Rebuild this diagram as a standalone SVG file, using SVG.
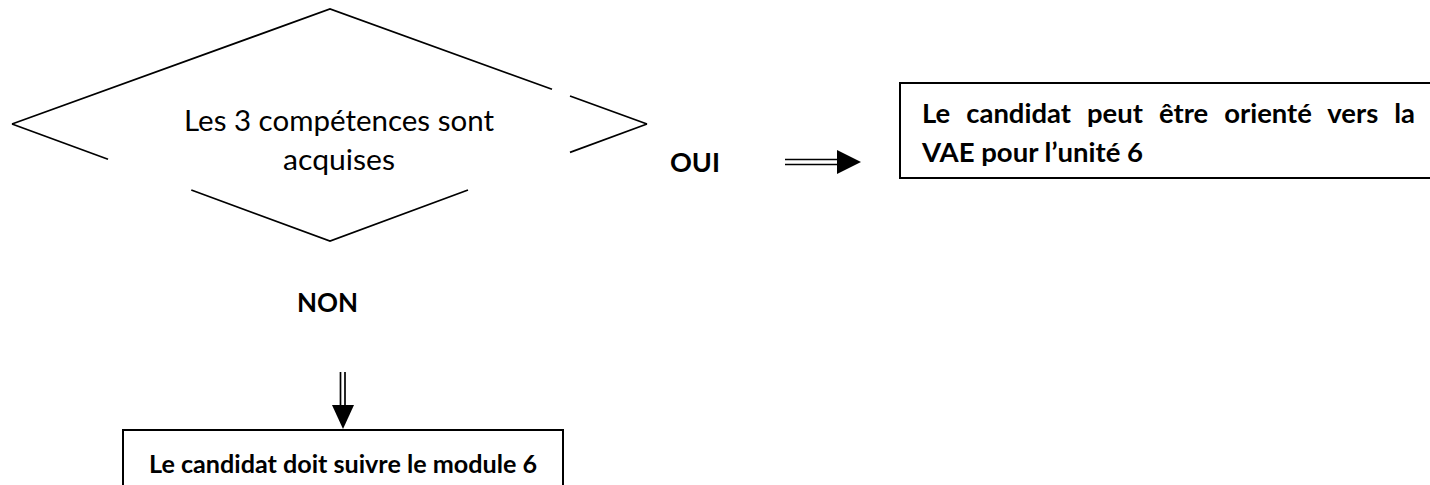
<svg xmlns="http://www.w3.org/2000/svg" width="1430" height="485" viewBox="0 0 1430 485">
  <style>
    .ln { stroke: #000; stroke-width: 1.7; fill: none; }
    .box { stroke: #000; stroke-width: 2; fill: #fff; }
    .reg { font-family: Lato, "Liberation Sans", sans-serif; font-size: 29px; fill: #000; }
    .bold { font-family: Lato, "Liberation Sans", sans-serif; font-weight: bold; fill: #000; }
  </style>
  <rect width="1430" height="485" fill="#fff"/>

  <g id="decision">
    <polyline class="ln" points="12,124 330,9 552,89.3"/>
    <line class="ln" x1="570" y1="96" x2="647" y2="124"/>
    <line class="ln" x1="12" y1="124" x2="108" y2="159.3"/>
    <line class="ln" x1="647" y1="124" x2="570" y2="152.4"/>
    <polyline class="ln" points="191.3,190 330,241 468,190"/>
    <text class="reg" x="339" y="131" text-anchor="middle" textLength="310" lengthAdjust="spacingAndGlyphs">Les 3 compétences sont</text>
    <text class="reg" x="339" y="170" text-anchor="middle" textLength="112" lengthAdjust="spacingAndGlyphs">acquises</text>
  </g>

  <g id="label-oui">
    <text class="bold" x="670" y="172" font-size="27" textLength="50" lengthAdjust="spacingAndGlyphs">OUI</text>
  </g>

  <g id="label-non">
    <text class="bold" x="297" y="312" font-size="27" textLength="61" lengthAdjust="spacingAndGlyphs">NON</text>
  </g>

  <g id="yes-box">
    <rect class="box" x="900" y="83" width="540" height="95"/>
    <text class="bold" x="922" y="123" font-size="26.3" word-spacing="9" textLength="493" lengthAdjust="spacingAndGlyphs">Le candidat peut être orienté vers la</text>
    <text class="bold" x="922" y="162" font-size="26.3" textLength="221" lengthAdjust="spacingAndGlyphs">VAE pour l’unité 6</text>
  </g>

  <g id="no-box">
    <rect class="box" x="123" y="430" width="440" height="70"/>
    <text class="bold" x="343" y="473" font-size="24" text-anchor="middle" textLength="388" lengthAdjust="spacingAndGlyphs">Le candidat doit suivre le module 6</text>
  </g>

  <g id="connectors">
    <g id="arrow-oui">
      <line class="ln" x1="785" y1="159.5" x2="839" y2="159.5"/>
      <line class="ln" x1="785" y1="164.5" x2="839" y2="164.5"/>
      <polygon points="837,150 837,174 861,162" fill="#000"/>
    </g>
    <g id="arrow-non">
      <line class="ln" x1="340.5" y1="372" x2="340.5" y2="407"/>
      <line class="ln" x1="345" y1="372" x2="345" y2="407"/>
      <polygon points="332,405 354,405 343,429" fill="#000"/>
    </g>
  </g>
</svg>
